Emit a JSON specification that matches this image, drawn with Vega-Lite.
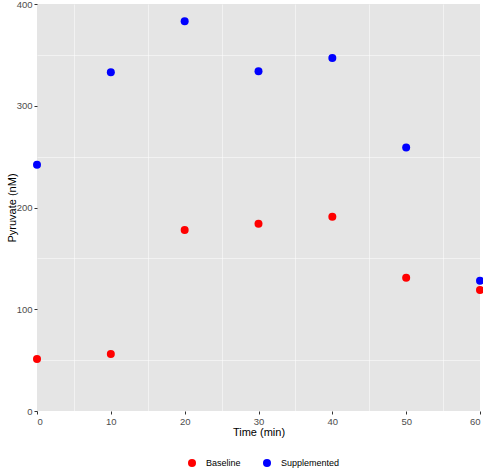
{
  "$schema": "https://vega.github.io/schema/vega-lite/v6.json",
  "width": 443,
  "height": 407,
  "autosize": {"type": "none"},
  "padding": {"left": 37, "top": 4, "right": 3, "bottom": 62},
  "background": "white",
  "config": {
    "font": "Liberation Sans",
    "view": {"fill": "#e5e5e5", "stroke": null},
    "axis": {
      "domain": false,
      "gridColor": "white",
      "tickColor": "#333333",
      "tickSize": 3,
      "labelColor": "#4d4d4d",
      "labelFontSize": 9.5,
      "labelPadding": 2,
      "titleFontSize": 11,
      "titleFontWeight": "normal",
      "titleColor": "black"
    }
  },
  "data": {
    "values": [
      {"time": 0, "pyruvate": 51, "group": "Baseline"},
      {"time": 10, "pyruvate": 56, "group": "Baseline"},
      {"time": 20, "pyruvate": 178, "group": "Baseline"},
      {"time": 30, "pyruvate": 184, "group": "Baseline"},
      {"time": 40, "pyruvate": 191, "group": "Baseline"},
      {"time": 50, "pyruvate": 131, "group": "Baseline"},
      {"time": 60, "pyruvate": 119, "group": "Baseline"},
      {"time": 0, "pyruvate": 242, "group": "Supplemented"},
      {"time": 10, "pyruvate": 333, "group": "Supplemented"},
      {"time": 20, "pyruvate": 383, "group": "Supplemented"},
      {"time": 30, "pyruvate": 334, "group": "Supplemented"},
      {"time": 40, "pyruvate": 347, "group": "Supplemented"},
      {"time": 50, "pyruvate": 259, "group": "Supplemented"},
      {"time": 60, "pyruvate": 128, "group": "Supplemented"}
    ]
  },
  "resolve": {"axis": {"x": "independent", "y": "independent"}},
  "layer": [
    {
      "mark": {"type": "point", "opacity": 0},
      "encoding": {
        "x": {
          "field": "time", "type": "quantitative",
          "scale": {"domain": [0, 60], "nice": false, "zero": false},
          "axis": {"orient": "bottom", "values": [5, 15, 25, 35, 45, 55], "labels": false, "ticks": false, "title": null, "gridWidth": 0.5, "zindex": 0}
        },
        "y": {
          "field": "pyruvate", "type": "quantitative",
          "scale": {"domain": [0, 400], "nice": false},
          "axis": {"orient": "left", "values": [50, 150, 250, 350], "labels": false, "ticks": false, "title": null, "gridWidth": 0.5, "zindex": 0}
        }
      }
    },
    {
      "mark": {"type": "circle", "size": 64, "opacity": 1},
      "encoding": {
        "x": {
          "field": "time", "type": "quantitative",
          "scale": {"domain": [0, 60], "nice": false, "zero": false},
          "axis": {"orient": "bottom", "values": [0, 10, 20, 30, 40, 50, 60], "title": "Time (min)", "gridWidth": 1.2, "titlePadding": 1, "zindex": 0}
        },
        "y": {
          "field": "pyruvate", "type": "quantitative",
          "scale": {"domain": [0, 400], "nice": false},
          "axis": {"orient": "left", "values": [0, 100, 200, 300, 400], "title": "Pyruvate (nM)", "gridWidth": 1.2, "titlePadding": -1, "zindex": 0}
        },
        "color": {
          "field": "group", "type": "nominal",
          "scale": {"domain": ["Baseline", "Supplemented"], "range": ["#ff0000", "#0000ff"]},
          "legend": {
            "orient": "none",
            "legendX": 150,
            "legendY": 454,
            "padding": 0,
            "direction": "horizontal",
            "title": null,
            "labelFontSize": 9,
            "labelColor": "black",
            "labelOffset": 9,
            "symbolType": "circle",
            "symbolSize": 64,
            "symbolOpacity": 1,
            "columnPadding": 21
          }
        }
      }
    }
  ]
}
